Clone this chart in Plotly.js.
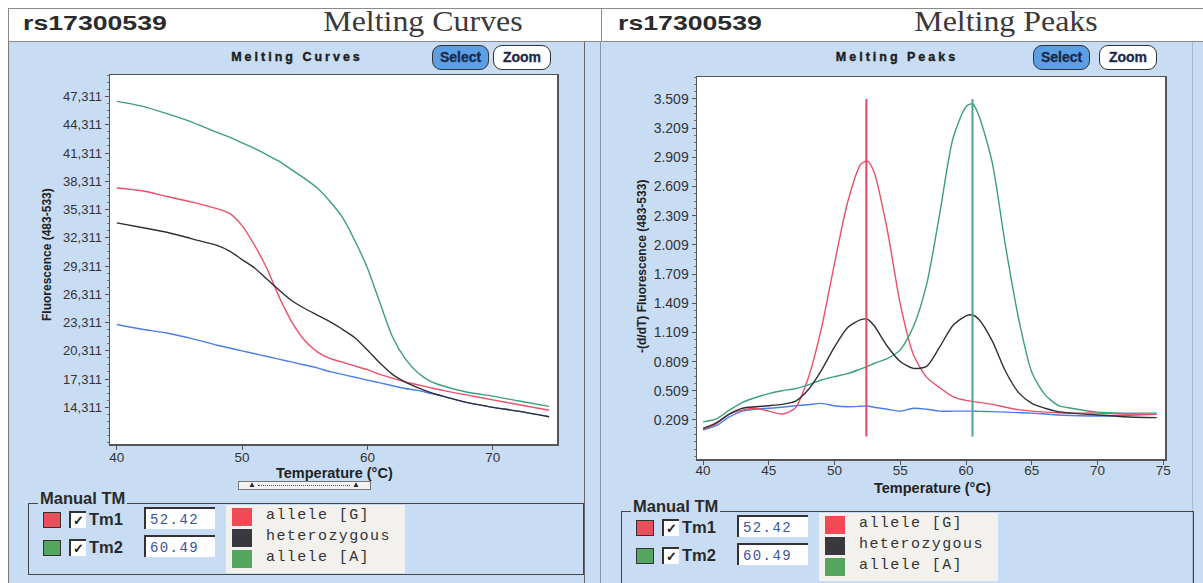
<!DOCTYPE html>
<html><head><meta charset="utf-8">
<script src="https://cdn.plot.ly/plotly-3.0.1.min.js"></script>
<style>
html,body{margin:0;padding:0;background:#fff;}
body{width:1203px;height:583px;overflow:hidden;position:relative;font-family:"Liberation Sans",Arial,sans-serif;color:#2b2b2b;}
.abs{position:absolute;}
.rs{font-weight:bold;font-size:21px;transform-origin:left center;transform:scaleX(1.27);white-space:nowrap;}
.big{font-family:"Liberation Serif","Times New Roman",serif;font-size:29px;color:#3a3a3a;white-space:nowrap;transform:translateX(-50%) scaleX(1.1);}
.sub{font-weight:bold;font-size:12.5px;letter-spacing:3px;color:#1e1e1e;white-space:nowrap;transform:translateX(-50%);-webkit-text-stroke:0.4px #1e1e1e;}
.btn{height:23px;border:1.5px solid #333;border-radius:9px;font-weight:bold;font-size:14px;line-height:23px;text-align:center;color:#1c2a48;-webkit-text-stroke:0.3px #1c2a48;}
.sq{border:1px solid #333;}
.chk{width:15px;height:15px;background:#fff;border-top:2px solid #333;border-left:2px solid #333;font-size:13px;line-height:15px;text-align:center;font-weight:bold;color:#222;}
.tm{font-weight:bold;font-size:16.5px;color:#2a2a2a;white-space:nowrap;}
.inp{height:22px;background:#fff;border-top:2px solid #333;border-left:2px solid #333;font-family:"Liberation Mono","Courier New",monospace;font-size:14px;letter-spacing:1.4px;color:#3a55a0;line-height:22px;padding-left:4px;box-sizing:border-box;}
.lg{font-family:"Liberation Mono","Courier New",monospace;font-size:15px;letter-spacing:1.4px;color:#333;white-space:nowrap;}
</style></head>
<body>
<div id="chrome"></div>
<div id="plot" class="abs" style="left:0;top:0;width:1203px;height:583px;"></div>
<script>
// ---------- data ----------
const snpId = 'rs17300539';
const panelTitles = ['Melting Curves', 'Melting Peaks'];
const legendNames = ['allele [G]', 'heterozygous', 'allele [A]'];
const tmLabels = ['Tm1', 'Tm2'];
const tmValues = [52.42, 60.49];
const tmLineRange = [0.04, 3.51];

// Melting curves (fluorescence vs temperature)
const curveTemps = [40, 42, 44, 46, 48, 49, 50, 51, 52, 53, 54, 55, 56, 57, 58, 59, 60, 61, 62, 63, 64, 65, 66, 68, 70, 72, 74.5];
const curveG     = [37.6, 37.3, 36.7, 36.1, 35.4, 34.9, 33.6, 31.5, 29.0, 25.9, 23.3, 21.4, 20.2, 19.5, 19.1, 18.7, 18.3, 17.8, 17.4, 17.0, 16.7, 16.4, 16.1, 15.6, 15.1, 14.6, 14.0];
const curveHet   = [33.9, 33.4, 32.9, 32.2, 31.5, 30.9, 30.0, 29.1, 27.9, 26.7, 25.6, 24.8, 24.1, 23.4, 22.6, 21.7, 20.4, 19.0, 17.8, 17.0, 16.4, 15.9, 15.5, 14.8, 14.3, 13.9, 13.3];
const curveA     = [46.8, 46.3, 45.5, 44.6, 43.5, 43.0, 42.4, 41.8, 41.1, 40.4, 39.5, 38.6, 37.6, 36.2, 34.5, 32.0, 29.1, 25.4, 21.8, 19.5, 18.0, 17.1, 16.6, 15.9, 15.5, 15.0, 14.4];
const curveBlank = [23.1, 22.6, 22.2, 21.6, 20.9, 20.6, 20.3, 20.0, 19.7, 19.4, 19.1, 18.8, 18.5, 18.1, 17.8, 17.5, 17.2, 16.9, 16.6, 16.3, 16.1, 15.8, 15.5, 14.8, 14.3, 13.9, 13.3];

// Melting peaks (-dF/dT vs temperature)
const peakTemps = [40, 41, 42, 43, 44, 45, 46, 47, 48, 49, 50, 51, 52, 52.5, 53, 54, 55, 56, 57, 58, 59, 60, 60.5, 61, 62, 63, 64, 65, 66, 67, 68, 70, 72, 74.5];
const peakG     = [0.113, 0.17, 0.27, 0.31, 0.33, 0.30, 0.27, 0.33, 0.64, 1.15, 1.82, 2.45, 2.84, 2.87, 2.76, 2.17, 1.40, 0.88, 0.65, 0.54, 0.45, 0.41, 0.40, 0.39, 0.37, 0.34, 0.315, 0.30, 0.29, 0.284, 0.28, 0.28, 0.27, 0.267];
const peakHet   = [0.123, 0.18, 0.27, 0.33, 0.345, 0.356, 0.37, 0.40, 0.52, 0.72, 0.96, 1.16, 1.24, 1.245, 1.18, 0.97, 0.81, 0.74, 0.76, 0.96, 1.18, 1.28, 1.288, 1.24, 1.02, 0.71, 0.49, 0.38, 0.33, 0.295, 0.28, 0.26, 0.243, 0.233];
const peakA     = [0.19, 0.22, 0.31, 0.39, 0.44, 0.48, 0.51, 0.53, 0.57, 0.62, 0.655, 0.685, 0.735, 0.76, 0.79, 0.84, 0.93, 1.17, 1.60, 2.33, 3.10, 3.43, 3.46, 3.33, 2.85, 2.00, 1.25, 0.70, 0.47, 0.36, 0.33, 0.29, 0.28, 0.28];
const peakBlank = [0.106, 0.15, 0.24, 0.30, 0.32, 0.33, 0.34, 0.355, 0.365, 0.38, 0.355, 0.345, 0.35, 0.353, 0.34, 0.32, 0.30, 0.33, 0.32, 0.30, 0.30, 0.30, 0.30, 0.298, 0.295, 0.29, 0.285, 0.28, 0.27, 0.26, 0.255, 0.25, 0.255, 0.267];

// Tick labels
const curveXTicks = [40, 50, 60, 70];
const peakXTicks = [40, 45, 50, 55, 60, 65, 70, 75];
const curveYTicks = [14.311, 17.311, 20.311, 23.311, 26.311, 29.311, 32.311, 35.311, 38.311, 41.311, 44.311, 47.311];
const curveYTickText = ['14,311', '17,311', '20,311', '23,311', '26,311', '29,311', '32,311', '35,311', '38,311', '41,311', '44,311', '47,311'];
const peakYTicks = [0.209, 0.509, 0.809, 1.109, 1.409, 1.709, 2.009, 2.309, 2.609, 2.909, 3.209, 3.509];

// ---------- styles ----------
const C = {G: '#e9506a', het: '#2f3036', A: '#3e9e7a', blank: '#4a7fe6'};
const legendColors = ['#f04a55', '#38383e', '#55a65e'];
const tmColors = ['#e9505e', '#55a65e'];
const W = 1203, H = 583;

// ---------- chrome (HTML) ----------
const ch = document.getElementById('chrome');
function el(cls, style, text) {
  const d = document.createElement('div');
  d.className = 'abs ' + (cls || '');
  d.setAttribute('style', style);
  if (text !== undefined) d.textContent = text;
  ch.appendChild(d);
  return d;
}
// header
el('', 'left:8px;top:8px;width:1200px;height:32px;border:1px solid #8a8a8a;border-right:none;background:#fff;');
el('', 'left:601px;top:8px;width:1px;height:33px;background:#8a8a8a;');
// panels
el('', 'left:8px;top:42px;width:1195px;height:541px;background:#c8ddf3;border-left:1px solid #777;');
el('', 'left:584px;top:42px;width:1px;height:541px;background:#666;');
el('', 'left:600px;top:42px;width:1px;height:541px;background:#8896a8;');
el('', 'left:1192px;top:42px;width:1px;height:541px;background:#a8b8cc;');

const offs = [{x: 0, y: 0}, {x: 593, y: 8}];
[0, 1].forEach(p => {
  const ox = p === 0 ? 0 : 595;
  el('rs', 'left:' + (23 + ox) + 'px;top:11px;', snpId);
  el('big', 'left:' + (p === 0 ? 423 : 1006) + 'px;top:5px;', panelTitles[p]);
  el('sub', 'left:' + (p === 0 ? 297 : 897) + 'px;top:50px;', panelTitles[p]);
  const sx = p === 0 ? [432, 493] : [1033, 1099];
  el('btn', 'left:' + sx[0] + 'px;top:45px;width:55px;background:#5b9fe6;', 'Select');
  el('btn', 'left:' + sx[1] + 'px;top:45px;width:56px;background:#fff;', 'Zoom');

  const o = offs[p];
  // Manual TM group
  el('', 'left:' + (28 + o.x) + 'px;top:' + (503 + o.y) + 'px;width:' + (p === 0 ? 554 : 571) + 'px;height:' + (p === 0 ? 70 : 80) + 'px;border:1px solid #444;');
  el('tm', 'left:' + (38 + o.x) + 'px;top:' + (489 + o.y) + 'px;background:#c8ddf3;padding:0 2px;', 'Manual TM');
  [0, 1].forEach(r => {
    const dy = r * 28;
    el('sq', 'left:' + (43 + o.x) + 'px;top:' + (512 + dy + o.y) + 'px;width:16px;height:14px;background:' + tmColors[r] + ';');
    el('chk', 'left:' + (69 + o.x) + 'px;top:' + (511 + dy + o.y) + 'px;', '\u2713');
    el('tm', 'left:' + (89 + o.x) + 'px;top:' + (510 + dy + o.y) + 'px;', tmLabels[r]);
    el('inp', 'left:' + (144 + o.x) + 'px;top:' + (507 + dy + o.y) + 'px;width:71px;', tmValues[r].toFixed(2));
  });
  el('', 'left:' + (226 + o.x) + 'px;top:' + (505 + o.y) + 'px;width:179px;height:68px;background:#f3f1ee;');
  legendNames.forEach((n, i) => {
    el('sq', 'left:' + (232 + o.x) + 'px;top:' + (508 + i * 21 + o.y) + 'px;width:20px;height:18px;border:none;background:' + legendColors[i] + ';');
    el('lg', 'left:' + (266 + o.x) + 'px;top:' + (507 + i * 21 + o.y) + 'px;', n);
  });
});
// scrollbar widget under left plot
el('', 'left:238px;top:481px;width:131px;height:7px;border:1px solid #777;background:#f2f2f2;');
el('', 'left:258px;top:485px;width:92px;height:0;border-top:1px dotted #556;');
el('', 'left:248px;top:480px;font-size:8px;color:#223;', '\u25B2');
el('', 'left:352px;top:480px;font-size:8px;color:#223;', '\u25B2');

// ---------- plot ----------
const sm = 0.7;
function line(x, y, color, xa, ya, w) {
  return {x: x, y: y, type: 'scatter', mode: 'lines', xaxis: xa, yaxis: ya,
          line: {color: color, width: w || 1.4, shape: 'spline', smoothing: sm}, hoverinfo: 'skip'};
}
const traces = [
  line(curveTemps, curveBlank, C.blank, 'x', 'y'),
  line(curveTemps, curveG, C.G, 'x', 'y'),
  line(curveTemps, curveA, C.A, 'x', 'y'),
  line(curveTemps, curveHet, C.het, 'x', 'y'),
  line(peakTemps, peakBlank, C.blank, 'x2', 'y2'),
  line(peakTemps, peakG, C.G, 'x2', 'y2'),
  line(peakTemps, peakA, C.A, 'x2', 'y2'),
  line(peakTemps, peakHet, C.het, 'x2', 'y2'),
  {x: [tmValues[0], tmValues[0]], y: tmLineRange, type: 'scatter', mode: 'lines', xaxis: 'x2', yaxis: 'y2',
   line: {color: '#e04868', width: 2}, hoverinfo: 'skip'},
  {x: [tmValues[1], tmValues[1]], y: tmLineRange, type: 'scatter', mode: 'lines', xaxis: 'x2', yaxis: 'y2',
   line: {color: '#4aa68c', width: 2}, hoverinfo: 'skip'}
];

const tickFont = {family: 'Liberation Sans, Arial, sans-serif', size: 13, color: '#333'};
const axBase = {showgrid: false, zeroline: false, showline: true, mirror: true, linecolor: '#555', linewidth: 1.5,
                ticks: 'outside', ticklen: 4, tickcolor: '#555', tickfont: tickFont, fixedrange: true};
function px(x) { return x / W; }
function py(y) { return 1 - y / H; }
const titleFont = {family: 'Liberation Sans, Arial', size: 14.5, color: '#222'};
const yTitleFont = {family: 'Liberation Sans, Arial', size: 12, color: '#222'};

const layout = {
  width: W, height: H, margin: {l: 0, r: 0, t: 0, b: 0},
  paper_bgcolor: 'rgba(0,0,0,0)', plot_bgcolor: '#ffffff', showlegend: false,
  xaxis: Object.assign({}, axBase, {domain: [px(110), px(557)], range: [39.46, 75.13], anchor: 'y',
          tickmode: 'array', tickvals: curveXTicks, ticklabelstandoff: -4, tickfont: Object.assign({}, tickFont, {size: 13.5})}),
  yaxis: Object.assign({}, axBase, {domain: [py(444), py(75)], range: [10.41, 49.6], anchor: 'x',
          tickmode: 'array', tickvals: curveYTicks, ticktext: curveYTickText,
          minor: {ticks: 'outside', tickmode: 'linear', tick0: 14.311, dtick: 0.75, ticklen: 2, tickcolor: '#777'}}),
  xaxis2: Object.assign({}, axBase, {domain: [px(697), px(1165)], range: [39.54, 75.13], anchor: 'y2',
          tickmode: 'array', tickvals: peakXTicks, ticklabelstandoff: -6, tickfont: Object.assign({}, tickFont, {size: 13.5})}),
  yaxis2: Object.assign({}, axBase, {domain: [py(459), py(77)], range: [-0.192, 3.735], anchor: 'x2',
          tickmode: 'array', tickvals: peakYTicks, ticktext: peakYTicks.map(v => v.toFixed(3)),
          tickfont: Object.assign({}, tickFont, {size: 14}),
          minor: {ticks: 'outside', tickmode: 'linear', tick0: 0.209, dtick: 0.075, ticklen: 2, tickcolor: '#777'}}),
  annotations: [
    {text: '<b>Temperature (°C)</b>', xref: 'paper', yref: 'paper', x: px(334), y: py(473), xanchor: 'center', yanchor: 'middle',
     showarrow: false, font: titleFont},
    {text: '<b>Temperature (°C)</b>', xref: 'paper', yref: 'paper', x: px(932), y: py(488), xanchor: 'center', yanchor: 'middle',
     showarrow: false, font: titleFont},
    {text: '<b>Fluorescence (483-533)</b>', xref: 'paper', yref: 'paper', x: px(47), y: py(255), xanchor: 'center', yanchor: 'middle',
     showarrow: false, textangle: -90, font: yTitleFont},
    {text: '<b>-(d/dT) Fluorescence (483-533)</b>', xref: 'paper', yref: 'paper', x: px(642), y: py(267), xanchor: 'center', yanchor: 'middle',
     showarrow: false, textangle: -90, font: yTitleFont}
  ]
};
Plotly.newPlot('plot', traces, layout, {displayModeBar: false, staticPlot: true});
</script>
</body></html>
